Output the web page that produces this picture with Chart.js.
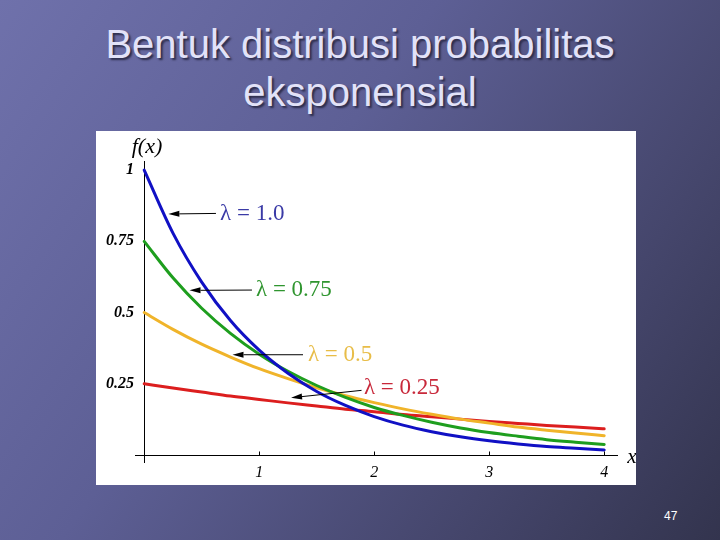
<!DOCTYPE html>
<html>
<head>
<meta charset="utf-8">
<script src="https://cdn.jsdelivr.net/npm/chart.js@4/dist/chart.umd.min.js"></script>
<style>
html,body{margin:0;padding:0;width:720px;height:540px;overflow:hidden}
body{position:relative;background:linear-gradient(125deg,#6f71ab 0%,#5d5f95 40%,#45466c 75%,#33344e 100%);font-family:"Liberation Sans",Arial,sans-serif}
#title{position:absolute;left:0;top:20px;width:720px;text-align:center;color:#e2e2f8;font-size:40px;line-height:48px;text-shadow:2px 2px 2px #2c2c4a}
#box{position:absolute;left:96px;top:131px;width:540px;height:354px;background:#ffffff}
#pg{position:absolute;left:664px;top:509px;color:#ffffff;font-size:12px}
</style>
</head>
<body>
<div id="title">Bentuk distribusi probabilitas<br>eksponensial</div>
<div id="box"><canvas id="c" width="540" height="354"></canvas></div>
<div id="pg">47</div>
<script>
// ---- data ----
const xValues   = [0, 0.25, 0.5, 0.75, 1, 1.25, 1.5, 1.75, 2, 2.25, 2.5, 2.75, 3, 3.25, 3.5, 3.75, 4];
const lambda100 = [1.000, 0.779, 0.607, 0.472, 0.368, 0.287, 0.223, 0.174, 0.135, 0.105, 0.082, 0.064, 0.050, 0.039, 0.030, 0.024, 0.018];
const lambda075 = [0.750, 0.622, 0.515, 0.427, 0.354, 0.294, 0.244, 0.202, 0.167, 0.139, 0.115, 0.095, 0.079, 0.066, 0.054, 0.045, 0.037];
const lambda050 = [0.500, 0.441, 0.389, 0.344, 0.303, 0.268, 0.236, 0.208, 0.184, 0.162, 0.143, 0.126, 0.112, 0.098, 0.087, 0.077, 0.068];
const lambda025 = [0.250, 0.235, 0.221, 0.207, 0.195, 0.183, 0.172, 0.161, 0.152, 0.142, 0.134, 0.126, 0.118, 0.111, 0.104, 0.098, 0.092];
const seriesLabels = ['λ = 1.0', 'λ = 0.75', 'λ = 0.5', 'λ = 0.25'];
const xTickValues = [0, 1, 2, 3, 4];
const xTickLabels = ['', '1', '2', '3', '4'];
const yTickValues = [0, 0.25, 0.5, 0.75, 1];
const yTickLabels = ['', '0.25', '0.5', '0.75', '1'];
const yAxisTitle = 'f(x)';
const xAxisTitle = 'x';

const serif = '"Liberation Serif","Times New Roman",serif';
const lineColors = ['#1010c4', '#1e9e1e', '#f0b42a', '#dc1e1e'];
const textColors = ['#3a3aa6', '#2f952f', '#e8bd48', '#c8283a'];
const seriesValues = [lambda100, lambda075, lambda050, lambda025];

const toPoints = arr => xValues.map((x, i) => ({x: x, y: arr[i]}));

// annotation placement (data coordinates)
const annotPos = [
  {tip: [0.21, 0.846], from: [0.624, 0.848], text: [0.66, 0.845]},
  {tip: [0.394, 0.578], from: [0.937, 0.579], text: [0.972, 0.58]},
  {tip: [0.768, 0.352], from: [1.381, 0.352], text: [1.424, 0.352]},
  {tip: [1.277, 0.201], from: [1.89, 0.227], text: [1.911, 0.236]}
];

const decor = {
  id: 'decor',
  afterDraw(chart) {
    const ctx = chart.ctx, xs = chart.scales.x, ys = chart.scales.y;
    const P = (a, b) => [xs.getPixelForValue(a), ys.getPixelForValue(b)];
    ctx.save();
    // small tick marks above x axis
    ctx.strokeStyle = '#000'; ctx.lineWidth = 1;
    const y0 = Math.round(ys.getPixelForValue(0)) + 0.5;
    xTickValues.forEach(v => {
      if (v === 0) return;
      const px = Math.round(xs.getPixelForValue(v)) + 0.5;
      ctx.beginPath(); ctx.moveTo(px, y0 - 4); ctx.lineTo(px, y0); ctx.stroke();
    });
    // axis titles
    ctx.fillStyle = '#000';
    ctx.font = 'italic 22px ' + serif;
    ctx.textAlign = 'center'; ctx.textBaseline = 'middle';
    let p = P(0.024, 1.082); ctx.fillText(yAxisTitle, p[0], p[1]);
    ctx.font = 'italic 21px ' + serif;
    p = P(4.24, -0.009); ctx.fillText(xAxisTitle, p[0], p[1]);
    // annotations with arrows
    annotPos.forEach((a, i) => {
      const t = P(a.tip[0], a.tip[1]), f = P(a.from[0], a.from[1]);
      const ang = Math.atan2(t[1] - f[1], t[0] - f[0]);
      const L = 11, W = 3;
      const bx = t[0] - L * Math.cos(ang), by = t[1] - L * Math.sin(ang);
      ctx.strokeStyle = '#000'; ctx.lineWidth = 1;
      ctx.beginPath(); ctx.moveTo(f[0], f[1]); ctx.lineTo(bx, by); ctx.stroke();
      ctx.fillStyle = '#000';
      ctx.beginPath();
      ctx.moveTo(t[0], t[1]);
      ctx.lineTo(bx + W * Math.sin(ang), by - W * Math.cos(ang));
      ctx.lineTo(bx - W * Math.sin(ang), by + W * Math.cos(ang));
      ctx.closePath(); ctx.fill();
      const tp = P(a.text[0], a.text[1]);
      ctx.fillStyle = textColors[i];
      ctx.font = '23px ' + serif;
      ctx.textAlign = 'left'; ctx.textBaseline = 'middle';
      ctx.fillText(seriesLabels[i], tp[0], tp[1]);
    });
    ctx.restore();
  }
};

new Chart(document.getElementById('c'), {
  type: 'line',
  data: {
    datasets: seriesValues.map((arr, i) => ({
      label: seriesLabels[i],
      data: toPoints(arr),
      borderColor: lineColors[i],
      backgroundColor: lineColors[i],
      borderWidth: 3,
      pointRadius: 0,
      fill: false,
      cubicInterpolationMode: 'monotone',
      borderJoinStyle: 'round',
      borderCapStyle: 'round'
    }))
  },
  options: {
    responsive: false,
    animation: false,
    layout: {padding: {top: 30, right: 18, left: 0, bottom: 0}},
    plugins: {legend: {display: false}, tooltip: {enabled: false}, title: {display: false}},
    scales: {
      x: {
        type: 'linear', min: -0.08, max: 4.12,
        afterBuildTicks: s => { s.ticks = xTickValues.map(v => ({value: v})); },
        afterFit: s => { s.height = 22; },
        ticks: {
          autoSkip: false, maxRotation: 0, padding: 0, color: '#000',
          font: {family: serif, size: 16, style: 'italic'},
          callback: (v) => xTickLabels[xTickValues.indexOf(v)]
        },
        grid: {
          drawTicks: false, lineWidth: 1,
          color: c => (c.tick && c.tick.value === 0) ? '#000' : 'rgba(0,0,0,0)'
        },
        border: {display: false}
      },
      y: {
        type: 'linear', min: -0.028, max: 1.032,
        afterBuildTicks: s => { s.ticks = yTickValues.map(v => ({value: v})); },
        afterFit: s => { s.width = 39; },
        ticks: {
          autoSkip: false, padding: 1, color: '#000',
          font: {family: serif, size: 16, style: 'italic', weight: 'bold'},
          callback: (v) => yTickLabels[yTickValues.indexOf(v)]
        },
        grid: {
          drawTicks: false, lineWidth: 1,
          color: c => (c.tick && c.tick.value === 0) ? '#000' : 'rgba(0,0,0,0)'
        },
        border: {display: false}
      }
    }
  },
  plugins: [decor]
});
</script>
</body>
</html>
